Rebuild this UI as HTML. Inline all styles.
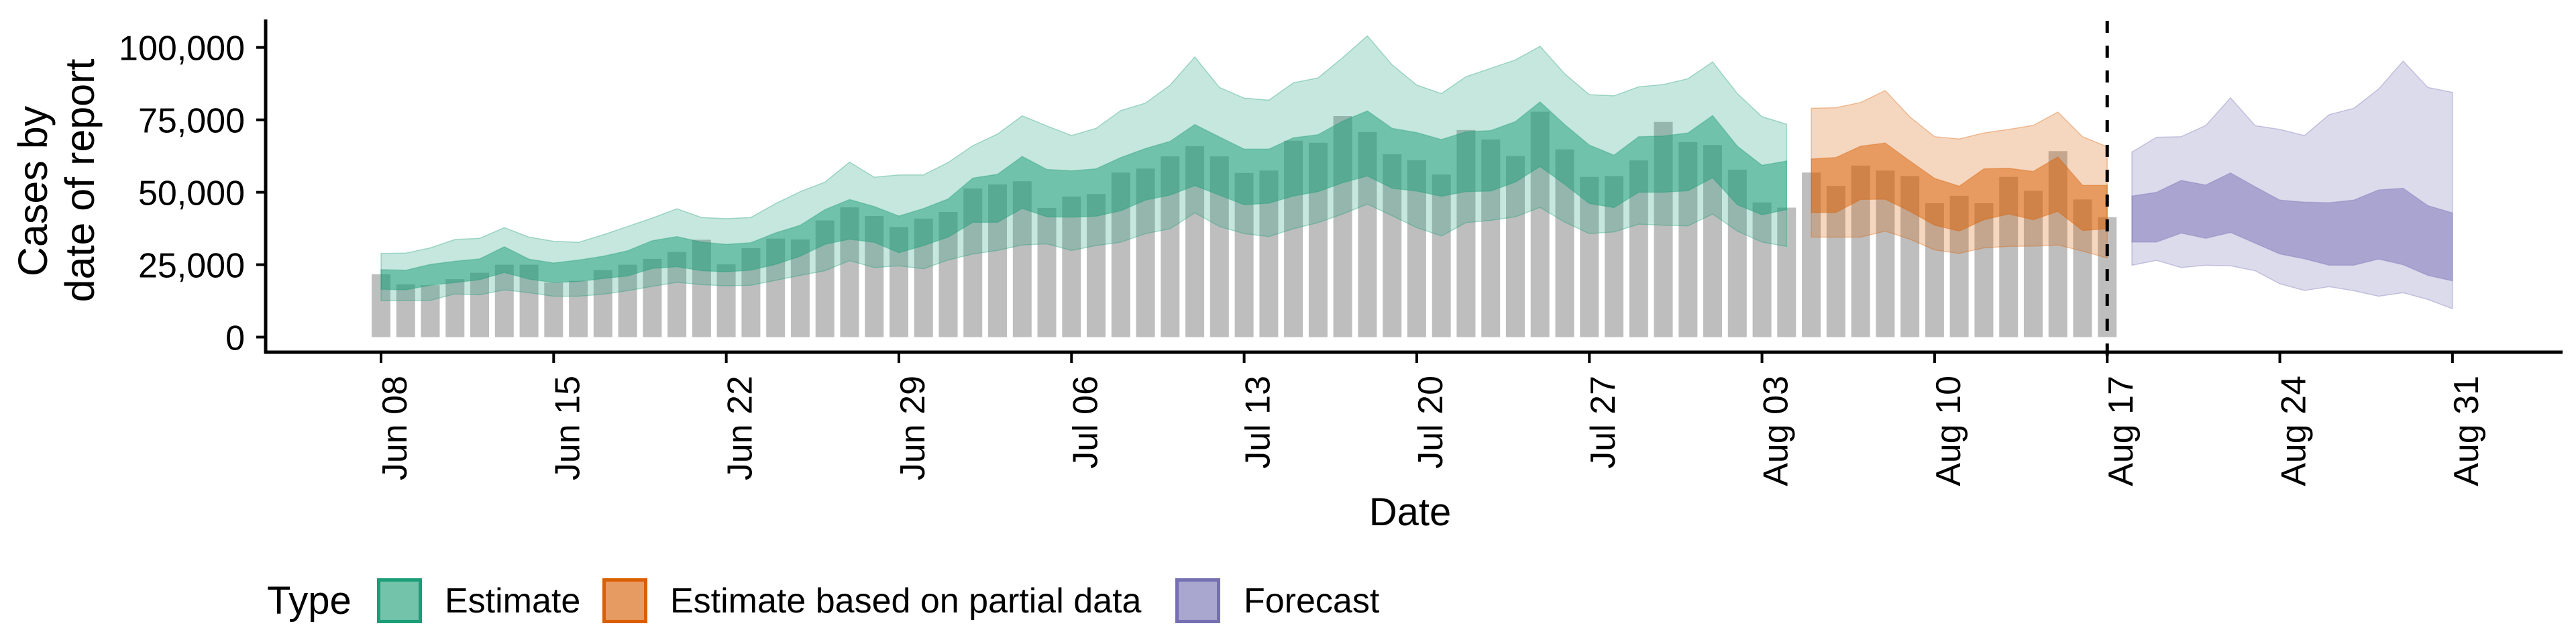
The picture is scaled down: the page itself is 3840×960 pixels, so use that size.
<!DOCTYPE html>
<html><head><meta charset="utf-8"><style>
html,body{margin:0;padding:0;background:#fff;}
svg{display:block;font-family:"Liberation Sans",sans-serif;}
</style></head><body>
<svg id="chart" xmlns="http://www.w3.org/2000/svg" width="3840" height="960" viewBox="0 0 3840 960">
<g id="bars"></g>
<g id="ribbons"></g>
<g id="axes"></g>
<g font-size="61" fill="#000">
<text transform="translate(70,285) rotate(-90)" text-anchor="middle">Cases by</text>
<text transform="translate(140,269) rotate(-90)" text-anchor="middle">date of report</text>
</g>
<text x="2102" y="783" font-size="58" text-anchor="middle">Date</text>
<g font-size="52">
<text x="398" y="915" font-size="58">Type</text>
<g>
<rect x="564.5" y="864.5" width="62" height="62" fill="#72c3aa" stroke="#1B9E77" stroke-width="5"/>
<text x="663" y="913">Estimate</text></g>
<g>
<rect x="900.5" y="864.5" width="62" height="62" fill="#e69b63" stroke="#D95F02" stroke-width="5"/>
<text x="999" y="913">Estimate based on partial data</text></g>
<g>
<rect x="1754.5" y="864.5" width="62" height="62" fill="#a9a6cf" stroke="#7570B3" stroke-width="5"/>
<text x="1854" y="913">Forecast</text></g>
</g>
</svg>
<script>
// day index 0 = Jun 08; values in thousands of cases
const barValues=[21.7,18.2,17.9,20.0,22.2,25.0,25.0,18.8,19.4,23.1,25.0,27.0,29.4,33.6,25.1,30.7,34.0,33.7,40.3,44.8,41.8,38.0,40.9,43.2,51.3,52.7,53.8,44.6,48.5,49.4,56.8,58.2,62.4,65.9,62.4,56.7,57.5,67.8,67.1,76.3,70.8,63.1,61.1,56.1,71.5,68.2,62.5,77.8,64.8,55.3,55.6,61.0,74.3,67.3,66.3,57.8,46.5,44.7,56.8,52.2,59.2,57.5,55.6,46.2,48.8,46.2,55.3,50.5,64.2,47.5,41.4];
const estStart=0;
const estUpper90=[28.9,29.0,30.8,33.7,34.1,37.8,34.5,33.1,32.7,35.3,38.2,41.1,44.3,41.3,40.9,41.3,46.1,50.2,53.5,60.4,55.2,56.0,56.0,60.3,66.1,70.1,76.4,72.9,69.6,72.1,78.2,80.8,87.0,96.7,86.2,82.5,81.8,87.8,89.5,96.5,104.0,94.0,87.0,84.1,89.9,92.8,95.7,100.4,90.9,83.7,83.3,86.4,87.2,89.2,95.0,84.1,76.1,73.5];
const estUpper50=[23.3,23.1,25.1,26.2,27.0,31.2,26.9,25.6,26.6,27.9,29.8,33.3,34.7,32.8,32.0,32.6,36.0,38.6,44.0,47.5,45.1,41.8,44.4,47.7,54.9,56.2,62.4,57.9,57.4,58.1,62.0,65.1,67.6,73.4,69.1,64.9,64.9,68.8,69.9,74.6,78.1,72.1,70.6,68.2,70.9,71.3,74.4,81.2,73.4,66.3,62.8,69.2,69.4,70.5,76.5,65.9,59.3,60.8];
const estLower50=[16.5,16.3,17.9,18.8,19.8,22.3,20.0,18.8,19.2,20.2,21.1,23.7,24.3,22.9,22.5,23.1,25.1,27.9,32.0,33.8,32.7,29.1,31.6,34.5,39.6,39.6,44.4,41.5,41.4,41.7,43.6,47.3,49.0,52.3,49.0,45.7,46.2,48.7,50.2,53.3,55.6,51.4,50.4,48.6,50.2,50.4,53.5,58.9,52.7,46.1,44.7,50.0,50.0,50.5,55.0,45.7,42.2,44.0];
const estLower90=[12.6,12.6,12.7,14.9,14.6,16.3,15.3,14.1,14.1,14.8,16.0,17.5,18.9,18.1,17.7,17.9,19.6,21.3,22.9,26.4,24.0,24.6,23.6,26.6,28.7,29.9,31.8,32.2,29.9,31.6,32.8,35.7,37.4,42.9,38.2,35.7,34.7,37.4,39.5,42.5,45.9,41.9,37.8,34.9,39.5,40.3,41.5,44.8,39.7,35.7,36.3,39.0,38.6,38.4,42.5,36.6,32.8,31.3];
const partStart=58;
const partUpper90=[79.0,79.2,81.0,85.1,76.0,69.2,68.4,70.5,71.7,73.1,77.7,69.2,65.7];
const partUpper50=[61.5,62.0,65.9,67.0,60.8,54.8,52.1,58.1,58.3,57.2,62.2,52.4,52.4];
const partLower50=[43.0,43.0,47.5,47.6,43.4,38.6,36.6,40.5,42.5,40.5,43.4,36.8,37.4];
const partLower90=[34.5,34.5,34.5,36.6,33.8,30.1,28.9,30.8,31.3,31.4,31.8,29.7,27.3];
const fcStart=71;
const fcUpper90=[63.9,69.0,69.2,73.1,82.6,73.0,71.7,69.6,76.8,79.0,85.6,95.3,86.2,84.5];
const fcUpper50=[48.7,50.0,54.1,52.5,56.7,51.9,47.3,46.6,46.4,47.3,50.8,51.4,45.4,42.9];
const fcLower50=[32.8,32.8,35.9,34.1,36.1,32.4,28.7,27.0,24.8,24.8,26.9,25.0,21.3,19.4];
const fcLower90=[24.8,26.5,24.0,24.8,24.6,22.9,18.4,16.1,17.4,16.0,14.1,15.3,13.0,9.8];
const yTicks=[0,25,50,75,100];
const yTickLabels=["0","25,000","50,000","75,000","100,000"];
const xTicks=[0,7,14,21,28,35,42,49,56,63,70,77,84];
const xTickLabels=["Jun 08","Jun 15","Jun 22","Jun 29","Jul 06","Jul 13","Jul 20","Jul 27","Aug 03","Aug 10","Aug 17","Aug 24","Aug 31"];
const forecastDay=70;

const NS="http://www.w3.org/2000/svg";
const X0=568, DX=36.76, Y0=502.5, DY=4.318;
function x(d){return X0+d*DX;}
function y(v){return Y0-v*DY;}
function mk(tag,attrs,parent){const e=document.createElementNS(NS,tag);for(const k in attrs)e.setAttribute(k,attrs[k]);parent.appendChild(e);return e;}

const gb=document.getElementById('bars');
barValues.forEach((v,i)=>{
  const r=mk('rect',{x:(x(i)-14).toFixed(1),y:y(v).toFixed(1),width:28,height:(Y0-y(v)).toFixed(1),fill:'#bebebe'},gb);
  
  
});

const gr=document.getElementById('ribbons');
function band(start,up,lo,color,op,name){
  let pts=up.map((v,i)=>x(start+i).toFixed(1)+','+y(v).toFixed(1));
  for(let i=lo.length-1;i>=0;i--)pts.push(x(start+i).toFixed(1)+','+y(lo[i]).toFixed(1));
  const p=mk('polygon',{points:pts.join(' '),fill:color,'fill-opacity':op,stroke:color,'stroke-opacity':0.35,'stroke-width':1.5},gr);
  
  
}
band(estStart,estUpper90,estLower90,'#1B9E77',0.25,'estimate-ribbon-90');
band(estStart,estUpper50,estLower50,'#1B9E77',0.5,'estimate-ribbon-50');
band(partStart,partUpper90,partLower90,'#D95F02',0.25,'partial-ribbon-90');
band(partStart,partUpper50,partLower50,'#D95F02',0.5,'partial-ribbon-50');
band(fcStart,fcUpper90,fcLower90,'#7570B3',0.25,'forecast-ribbon-90');
band(fcStart,fcUpper50,fcLower50,'#7570B3',0.5,'forecast-ribbon-50');

const ga=document.getElementById('axes');
const dl=mk('line',{x1:x(forecastDay),x2:x(forecastDay),y1:31,y2:541,stroke:'#000','stroke-width':5,'stroke-dasharray':'18 19'},ga);


const ya=mk('line',{x1:396,x2:396,y1:29,y2:527,stroke:'#000','stroke-width':5},ga);


const xa=mk('line',{x1:394,x2:3820,y1:525,y2:525,stroke:'#000','stroke-width':5},ga);


yTicks.forEach((v,i)=>{
  const t=mk('line',{x1:382,x2:396,y1:y(v),y2:y(v),stroke:'#000','stroke-width':4},ga);
  
  
  const l=mk('text',{x:365,y:(y(v)+19).toFixed(1),'font-size':52,'text-anchor':'end'},ga);
  l.textContent=yTickLabels[i];
  
  
});
xTicks.forEach((d,i)=>{
  const t=mk('line',{x1:x(d),x2:x(d),y1:525,y2:541,stroke:'#000','stroke-width':4},ga);
  
  
  const l=mk('text',{transform:'translate('+(x(d)+38).toFixed(1)+',560) rotate(-90)','font-size':52,'text-anchor':'end'},ga);
  l.textContent=xTickLabels[i];
  
  
});
</script>
</body></html>
